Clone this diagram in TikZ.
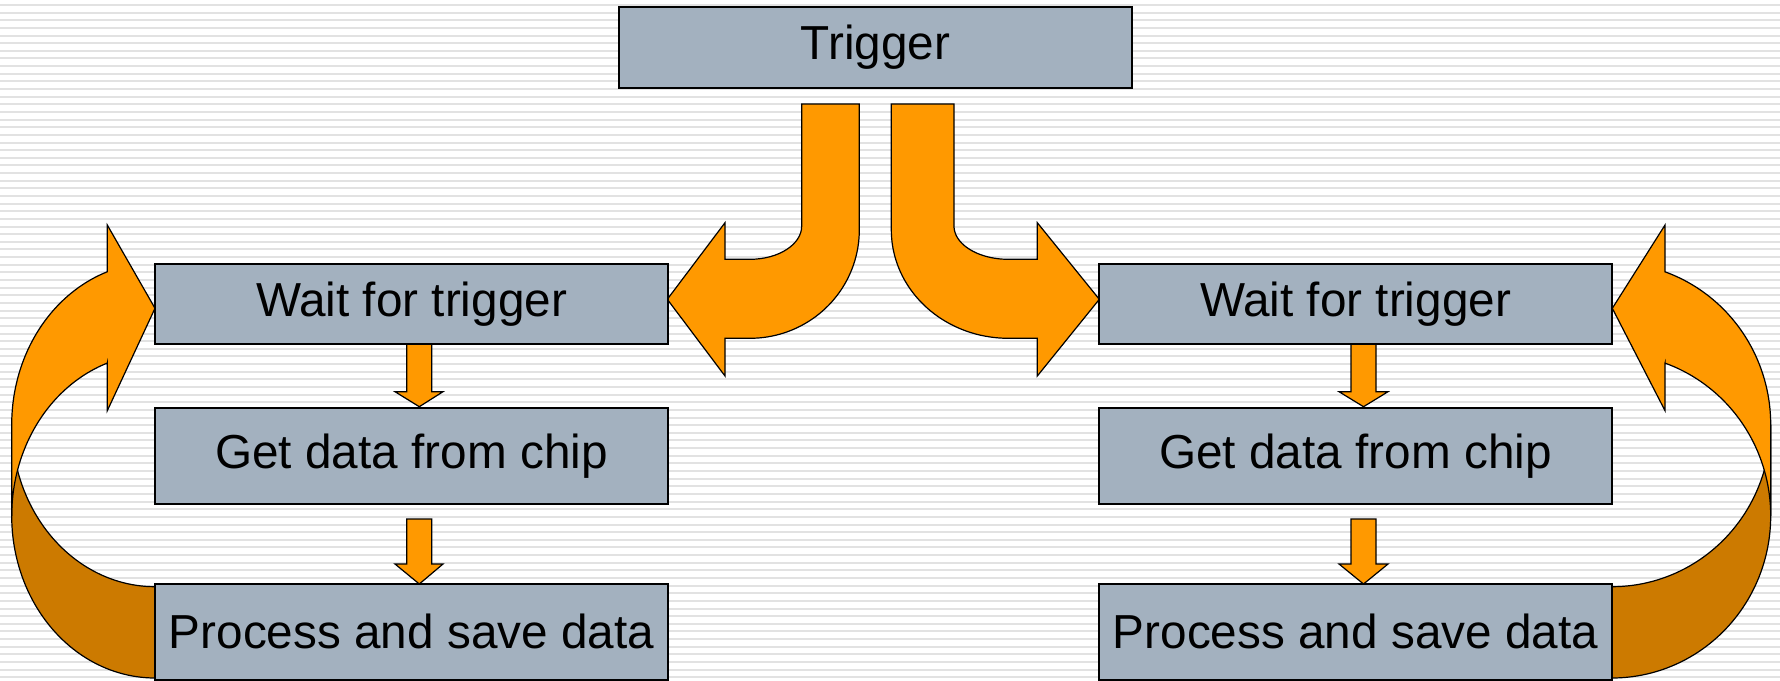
\documentclass[tikz,border=0pt]{standalone}
\usepackage{fontspec}
\setmainfont{Liberation Sans}
\usetikzlibrary{calc}
\definecolor{boxfill}{HTML}{A3B1BF}
\definecolor{arrowfront}{HTML}{FF9900}
\definecolor{arrowback}{HTML}{CC7A00}
\definecolor{stripe}{HTML}{E2E2E2}
\pgfdeclarelayer{bg}
\pgfdeclarelayer{arrows}
\pgfsetlayers{bg,arrows,main}

\begin{document}
\begin{tikzpicture}[x=0.5pt, y=-0.5pt,
  stepbox/.style={draw=black, line width=1pt, fill=boxfill, minimum width=256.5pt,
                  inner sep=0pt, font=\fontsize{23.85}{28}\selectfont},
  blockarrow/.style={draw=black, line width=0.6pt, fill=arrowfront, line join=miter},
  backband/.style={draw=black, line width=0.6pt, fill=arrowback, line join=miter}]

\useasboundingbox (0,0) rectangle (1780,680);

% striped backdrop
\begin{pgfonlayer}{bg}
  \fill[white] (0,0) rectangle (1780,680);
  \foreach \i in {0,...,88}
    \draw[stripe, line width=1pt] (0,{5+7.64*\i}) -- (1780,{5+7.64*\i});
\end{pgfonlayer}

% process boxes
\node[stepbox, minimum height=40.5pt] (trig) at (875.5,47.5) {Trigger};

\node[stepbox, minimum height=40pt]    (w1) at (411.5,304)    {Wait for trigger};
\node[stepbox, minimum height=48pt]    (g1) at (411.5,456)    {Get data from chip};
\node[stepbox, minimum height=47.75pt] (p1) at (411.5,631.75) {Process and save data};

\node[stepbox, minimum height=40pt]    (w2) at (1355.5,304)    {Wait for trigger};
\node[stepbox, minimum height=48pt]    (g2) at (1355.5,456)    {Get data from chip};
\node[stepbox, minimum height=47.75pt] (p2) at (1355.5,631.75) {Process and save data};

\begin{pgfonlayer}{arrows}
  % bent arrows from the trigger to both loops
  \draw[blockarrow] (801.7,104) -- (801.7,226)
    arc[start angle=0, end angle=90, x radius=25.85pt, y radius=-16.65pt]
    -- (725,259.3) -- (725,222.7) -- (667.3,299.3) -- (725,376) -- (725,338.3) -- (750,338.3)
    -- plot[domain=90:0, samples=40] ({750+109.3*cos(\x)},{230+108.3*sin(\x)})
    -- (859.3,104) -- cycle;

  \draw[blockarrow] (954,104) -- (954,226)
    -- plot[domain=180:90, samples=30] ({1008.3+54.3*cos(\x)},{226+33.3*sin(\x)})
    -- (1037.3,259.3) -- (1037.3,222.7) -- (1099.3,299.3) -- (1037.3,376) -- (1037.3,338.3)
    -- (1008.3,338.3)
    -- plot[domain=90:180, samples=40] ({1008.3+117*cos(\x)},{230+108.3*sin(\x)})
    -- (891.3,104) -- cycle;

  % small step arrows, left column
  \draw[blockarrow] (406.7,344) -- (406.7,391.7) -- (395,391.7) -- (419.3,406.7)
    -- (443,391.7) -- (431.7,391.7) -- (431.7,344) -- cycle;
  \draw[blockarrow] (406.7,519) -- (406.7,564) -- (395,564) -- (419.3,584)
    -- (443,564) -- (431.7,564) -- (431.7,519) -- cycle;

  % small step arrows, right column
  \draw[blockarrow] (1351,344) -- (1351,391.7) -- (1339,391.7) -- (1363.5,406.7)
    -- (1388,391.7) -- (1376,391.7) -- (1376,344) -- cycle;
  \draw[blockarrow] (1351,519) -- (1351,564) -- (1339,564) -- (1363.5,584)
    -- (1388,564) -- (1376,564) -- (1376,519) -- cycle;

  % loop back on the left: back band, then front band with head
  \draw[backband] (11.7,515.9)
    -- plot[domain=180:90, samples=50] ({155+143.3*cos(\x)},{515.9+162.1*sin(\x)})
    -- (155,586.7)
    -- plot[domain=90:180, samples=50] ({155+143.3*cos(\x)},{424.6+162.1*sin(\x)})
    -- cycle;
  \draw[blockarrow] (11.7,424.6)
    -- plot[domain=180:250.55, samples=40] ({155+143.3*cos(\x)},{424.6+162.1*sin(\x)})
    -- (107.3,225) -- (155,308.3) -- (107.3,410.7) -- (107.3,363)
    -- plot[domain=250.55:180, samples=40] ({155+143.3*cos(\x)},{515.9+162.1*sin(\x)})
    -- cycle;

  % loop back on the right
  \draw[backband] (1770.7,515.9)
    -- plot[domain=0:90, samples=50] ({1612+158.7*cos(\x)},{515.9+162.1*sin(\x)})
    -- (1612,586.7)
    -- plot[domain=90:0, samples=50] ({1612+158.7*cos(\x)},{424.6+162.1*sin(\x)})
    -- cycle;
  \draw[blockarrow] (1770.7,424.6)
    -- plot[domain=360:289.5, samples=40] ({1612+158.7*cos(\x)},{424.6+162.1*sin(\x)})
    -- (1665,225) -- (1612.3,308.3) -- (1665,410.7) -- (1665,363)
    -- plot[domain=289.5:360, samples=40] ({1612+158.7*cos(\x)},{515.9+162.1*sin(\x)})
    -- cycle;
\end{pgfonlayer}
\end{tikzpicture}
\end{document}
